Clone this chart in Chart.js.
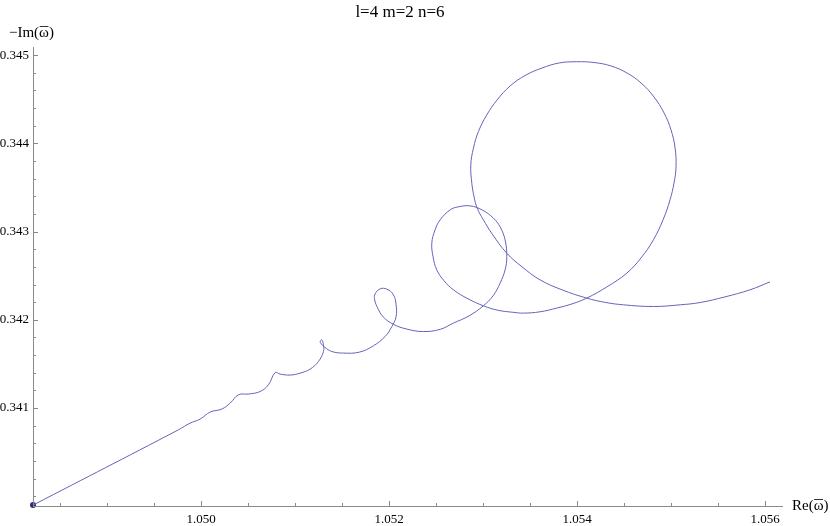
<!DOCTYPE html>
<html>
<head>
<meta charset="utf-8">
<script src="https://cdn.jsdelivr.net/npm/chart.js@4/dist/chart.umd.min.js"></script>
<style>
  body { margin: 0; background: #fff; }
</style>
</head>
<body>
<canvas id="plot" width="830" height="526"></canvas>
<script>
// curve, in plot order
const reOmega = [
  1.04821, 1.049759, 1.049883, 1.049989, 1.050096, 1.050220, 1.050309, 1.050397, 1.050503, 1.050628,
  1.050716, 1.050787, 1.050840, 1.050947, 1.051053, 1.051160, 1.051248, 1.051301, 1.051301, 1.051284,
  1.051266, 1.051277, 1.051312, 1.051390, 1.051514, 1.051684, 1.051833, 1.051957, 1.052029, 1.052074,
  1.052074, 1.052046, 1.051976, 1.051904, 1.051851, 1.051844, 1.051872, 1.051936, 1.052046, 1.052188,
  1.052365, 1.052543, 1.052684, 1.052851, 1.053003, 1.053106, 1.053181, 1.053234, 1.053252, 1.053234,
  1.053181, 1.053110, 1.052989, 1.052862, 1.052734, 1.052649, 1.052543, 1.052489, 1.052454, 1.052468,
  1.052507, 1.052585, 1.052684, 1.052840, 1.053003, 1.053160, 1.053322, 1.053429, 1.053606, 1.053784,
  1.053947, 1.054103, 1.054319, 1.054529, 1.054681, 1.054812, 1.054915, 1.054989, 1.055032, 1.055053,
  1.055043, 1.055000, 1.054926, 1.054819, 1.054681, 1.054532, 1.054362, 1.054181, 1.053997, 1.053809,
  1.053628, 1.053457, 1.053287, 1.053149, 1.053039, 1.052950, 1.052897, 1.052869, 1.052880, 1.052904,
  1.052936, 1.053003, 1.053096, 1.053252, 1.053415, 1.053606, 1.053840, 1.054103, 1.054298, 1.054493,
  1.054812, 1.055096, 1.055309, 1.055574, 1.055840, 1.056053
]
const negImOmega = [
  0.33990, 0.340754, 0.340830, 0.340875, 0.340955, 0.340989, 0.341057, 0.341151, 0.341159, 0.341188,
  0.341264, 0.341403, 0.341385, 0.341374, 0.341396, 0.341442, 0.341528, 0.341641, 0.341717, 0.341774,
  0.341754, 0.341728, 0.341691, 0.341641, 0.341623, 0.341634, 0.341706, 0.341811, 0.341924, 0.342037,
  0.342170, 0.342283, 0.342348, 0.342351, 0.342294, 0.342238, 0.342147, 0.342034, 0.341949, 0.341895,
  0.341867, 0.341892, 0.341963, 0.342045, 0.342159, 0.342272, 0.342416, 0.342566, 0.342717, 0.342906,
  0.343053, 0.343152, 0.343246, 0.343291, 0.343280, 0.343246, 0.343133, 0.343019, 0.342869, 0.342713,
  0.342566, 0.342442, 0.342340, 0.342238, 0.342159, 0.342108, 0.342085, 0.342076, 0.342091, 0.342133,
  0.342181, 0.342246, 0.342374, 0.342529, 0.342702, 0.342906, 0.343133, 0.343359, 0.343552, 0.343736,
  0.343948, 0.344152, 0.344344, 0.344525, 0.344684, 0.344797, 0.344877, 0.344916, 0.344925, 0.344911,
  0.344854, 0.344775, 0.344650, 0.344492, 0.344322, 0.344133, 0.343945, 0.343755, 0.343548, 0.343393,
  0.343268, 0.343133, 0.342974, 0.342755, 0.342600, 0.342453, 0.342340, 0.342246, 0.342198, 0.342170,
  0.342151, 0.342170, 0.342196, 0.342260, 0.342340, 0.342430
]

// starting point (dot)
const startRe = [1.04821]
const startIm = [0.33990]

// axes
const axisOrigin = { x: 1.04821, y: 0.33989 }
const xRange = [1.04821, 1.0561915]
const yRange = [0.33989, 0.345092]

const xMajor = [1.050, 1.052, 1.054, 1.056]
const xMajorLabels = ['1.050', '1.052', '1.054', '1.056']
const xMinor = [1.0485, 1.049, 1.0495, 1.0505, 1.051, 1.0515, 1.0525, 1.053, 1.0535,
                1.0545, 1.055, 1.0555]
const yMajor = [0.341, 0.342, 0.343, 0.344, 0.345]
const yMajorLabels = ['0.341', '0.342', '0.343', '0.344', '0.345']
const yMinor = [0.3400, 0.3402, 0.3404, 0.3406, 0.3408, 0.3412, 0.3414, 0.3416, 0.3418,
                0.3422, 0.3424, 0.3426, 0.3428, 0.3432, 0.3434, 0.3436, 0.3438,
                0.3442, 0.3444, 0.3446, 0.3448]

const titleText = 'l=4 m=2 n=6'
const serif = '"Liberation Serif", "DejaVu Serif", serif'

const toPoints = (xs, ys) => xs.map((x, i) => ({ x: x, y: ys[i] }))

const mathematicaAxes = {
  id: 'mathematicaAxes',
  afterDraw(chart) {
    const ctx = chart.ctx
    const xs = chart.scales.x
    const ys = chart.scales.y
    const ox = xs.getPixelForValue(axisOrigin.x)
    const oy = ys.getPixelForValue(axisOrigin.y)

    ctx.save()
    ctx.strokeStyle = '#8a8a8a'
    ctx.lineWidth = 1

    ctx.beginPath()
    ctx.moveTo(ox, Math.round(oy) + 0.5)
    ctx.lineTo(xs.right, Math.round(oy) + 0.5)
    ctx.moveTo(Math.round(ox) + 0.5, oy)
    ctx.lineTo(Math.round(ox) + 0.5, ys.top)

    xMinor.forEach(v => {
      let px = Math.round(xs.getPixelForValue(v)) + 0.5
      ctx.moveTo(px, oy); ctx.lineTo(px, oy - 3)
    })
    xMajor.forEach(v => {
      let px = Math.round(xs.getPixelForValue(v)) + 0.5
      ctx.moveTo(px, oy); ctx.lineTo(px, oy - 5)
    })
    yMinor.forEach(v => {
      let py = Math.round(ys.getPixelForValue(v)) + 0.5
      ctx.moveTo(ox, py); ctx.lineTo(ox + 3, py)
    })
    yMajor.forEach(v => {
      let py = Math.round(ys.getPixelForValue(v)) + 0.5
      ctx.moveTo(ox, py); ctx.lineTo(ox + 5, py)
    })
    ctx.stroke()

    ctx.fillStyle = '#000'
    ctx.font = '13px ' + serif
    ctx.textAlign = 'center'
    ctx.textBaseline = 'top'
    xMajor.forEach((v, i) => {
      ctx.fillText(xMajorLabels[i], xs.getPixelForValue(v), oy + 7)
    })
    ctx.textAlign = 'right'
    ctx.textBaseline = 'middle'
    yMajor.forEach((v, i) => {
      ctx.fillText(yMajorLabels[i], ox - 4, ys.getPixelForValue(v))
    })

    // axis labels with an overline on omega
    ctx.font = '15px ' + serif
    ctx.textAlign = 'left'
    ctx.textBaseline = 'middle'
    drawOmegaLabel(ctx, '\u2212Im(', ')', 9, 33)
    drawOmegaLabel(ctx, 'Re(', ')', 792, oy)

    ctx.font = '17px ' + serif
    ctx.textAlign = 'center'
    ctx.fillText(titleText, 400, 13)
    ctx.restore()
  }
}

function drawOmegaLabel(ctx, before, after, x, y) {
  ctx.fillText(before, x, y)
  let w1 = ctx.measureText(before).width
  ctx.fillText('\u03c9', x + w1, y)
  let w2 = ctx.measureText('\u03c9').width
  ctx.fillText(after, x + w1 + w2, y)
  ctx.beginPath()
  ctx.strokeStyle = '#000'
  ctx.lineWidth = 0.8
  ctx.moveTo(x + w1 + 0.5, y - 6.5)
  ctx.lineTo(x + w1 + w2 - 0.5, y - 6.5)
  ctx.stroke()
}

new Chart(document.getElementById('plot'), {
  type: 'scatter',
  data: {
    datasets: [{
      data: toPoints(reOmega, negImOmega),
      showLine: true,
      borderColor: 'rgb(100, 100, 185)',
      borderWidth: 1,
      tension: 0.4,
      pointRadius: 0,
      clip: false
    }, {
      data: toPoints(startRe, startIm),
      pointRadius: 3,
      pointBackgroundColor: 'rgb(45, 45, 120)',
      pointBorderWidth: 0,
      clip: false
    }]
  },
  options: {
    responsive: false,
    animation: false,
    layout: { padding: { left: 33, right: 47, top: 47, bottom: 20 } },
    plugins: { legend: { display: false }, tooltip: { enabled: false } },
    scales: {
      x: { type: 'linear', min: xRange[0], max: xRange[1], display: false },
      y: { type: 'linear', min: yRange[0], max: yRange[1], display: false }
    }
  },
  plugins: [mathematicaAxes]
})
</script>
</body>
</html>
